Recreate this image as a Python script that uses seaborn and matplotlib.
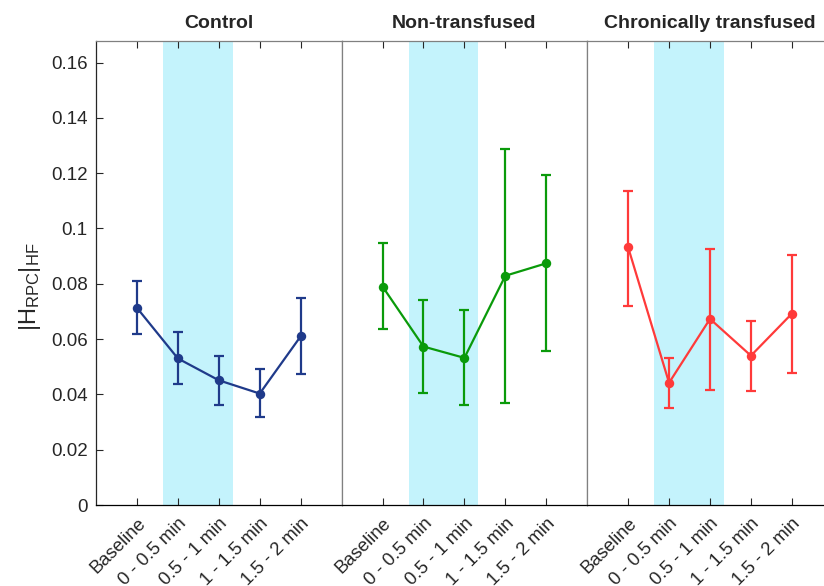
import matplotlib
matplotlib.use("Agg")
import matplotlib.pyplot as plt
import matplotlib.transforms as mtransforms
import numpy as np
import pandas as pd
import seaborn as sns

categories = ["Baseline", "0 - 0.5 min", "0.5 - 1 min", "1 - 1.5 min", "1.5 - 2 min"]
groups = ["Control", "Non-transfused", "Chronically transfused"]

control_mean = [0.0713, 0.0530, 0.0451, 0.0403, 0.0610]
control_low = [0.0618, 0.0439, 0.0362, 0.0317, 0.0473]
control_high = [0.0811, 0.0624, 0.0538, 0.0492, 0.0748]

nontrans_mean = [0.0790, 0.0573, 0.0532, 0.0829, 0.0874]
nontrans_low = [0.0635, 0.0404, 0.0361, 0.0370, 0.0558]
nontrans_high = [0.0948, 0.0743, 0.0704, 0.1289, 0.1194]

chronic_mean = [0.0932, 0.0442, 0.0673, 0.0540, 0.0692]
chronic_low = [0.0721, 0.0351, 0.0416, 0.0412, 0.0477]
chronic_high = [0.1136, 0.0532, 0.0927, 0.0667, 0.0904]

colors = ["#1f3a8a", "#0a9a0a", "#ff3a3a"]

# build a long table for seaborn
rows = []
for g, m, lo, hi in zip(groups,
                        [control_mean, nontrans_mean, chronic_mean],
                        [control_low, nontrans_low, chronic_low],
                        [control_high, nontrans_high, chronic_high]):
    for i, c in enumerate(categories):
        rows.append({"group": g, "pos": i, "cat": c, "mean": m[i], "low": lo[i], "high": hi[i]})
df = pd.DataFrame(rows)

sns.set_style("white")
plt.rcParams["font.family"] = ["Liberation Sans", "DejaVu Sans"]

W, H = 824, 586
fig = plt.figure(figsize=(W / 100, H / 100), dpi=100)

left_px, top_px, bottom_px = 96, 41, 505
panel_w = 245.6
ymax = 0.1678

# nudge rotated tick labels a little to the right
shift = mtransforms.ScaledTranslation(6 / 100, 1 / 100, fig.dpi_scale_trans)

axes = []
for k, g in enumerate(groups):
    x0 = left_px + k * panel_w
    ax = fig.add_axes([x0 / W, (H - bottom_px) / H, panel_w / W, (bottom_px - top_px) / H])
    axes.append(ax)
    sub = df[df["group"] == g]

    ax.axvspan(0.64, 2.34, color="#c4f3fc", lw=0, zorder=0)
    sns.lineplot(data=sub, x="pos", y="mean", ax=ax, color=colors[k], lw=1.6,
                 marker="o", markersize=6.8, markeredgewidth=0, zorder=3)
    ax.errorbar(sub["pos"], sub["mean"],
                yerr=[sub["mean"] - sub["low"], sub["high"] - sub["mean"]],
                fmt="none", ecolor=colors[k], elinewidth=1.6, capsize=3.8,
                capthick=1.6, zorder=3)

    ax.set_xlim(-1, 5)
    ax.set_ylim(0, ymax)
    ax.set_xticks(range(len(categories)))
    ax.tick_params(axis="x", direction="in", top=True, bottom=True, length=5,
                   width=0.8, pad=12, color="#262626")
    ax.set_xticklabels(categories, rotation=45, ha="right", va="center",
                       rotation_mode="anchor", fontsize=13.3)
    for lab in ax.get_xticklabels():
        lab.set_transform(lab.get_transform() + shift)
    ax.set_xlabel("")
    ax.set_ylabel("")
    ax.set_title(g, fontsize=14, fontweight="bold", pad=9)

    for side in ["left", "right", "top", "bottom"]:
        ax.spines[side].set_linewidth(0.9)
    ax.spines["bottom"].set_color("black")
    ax.spines["top"].set_color("#808080")
    ax.spines["right"].set_color("#808080")
    ax.spines["left"].set_color("#808080")

    if k == 0:
        ax.set_yticks(np.arange(0, 0.161, 0.02))
        ax.set_yticklabels(["0", "0.02", "0.04", "0.06", "0.08", "0.1", "0.12", "0.14", "0.16"])
        ax.tick_params(axis="y", direction="in", left=True, length=5, width=0.8,
                       labelsize=13.5, color="#262626", pad=6)
        ax.spines["left"].set_color("#262626")
        ax.set_ylabel(r"$\mathregular{|H_{RPC}|_{HF}}$", fontsize=17)
        ax.yaxis.set_label_coords(-0.215, 0.47)
    else:
        ax.set_yticks([])
        ax.tick_params(axis="y", left=False, labelleft=False)

fig.savefig("out.png", dpi=100)
